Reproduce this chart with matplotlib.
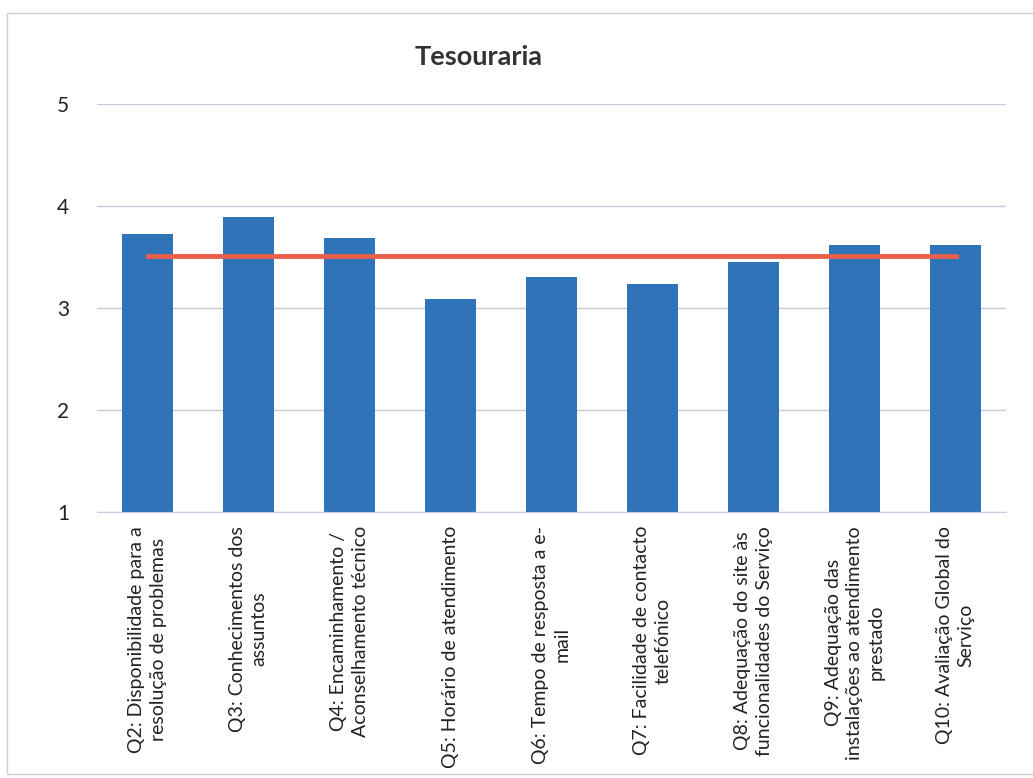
import matplotlib.pyplot as plt
from matplotlib.patches import Rectangle
from matplotlib.transforms import offset_copy

# Survey questions and average scores (scale 1-5)
questions = [
    'Q2: Disponibilidade para a\nresolução de problemas',
    'Q3: Conhecimentos dos\nassuntos',
    'Q4: Encaminhamento /\nAconselhamento técnico',
    'Q5: Horário de atendimento',
    'Q6: Tempo de resposta a e-\nmail',
    'Q7: Facilidade de contacto\ntelefónico',
    'Q8: Adequação do site às\nfuncionalidades do Serviço',
    'Q9: Adequação das\ninstalações ao atendimento\nprestado',
    'Q10: Avaliação Global do\nServiço',
]
scores = [3.73, 3.89, 3.69, 3.09, 3.30, 3.24, 3.45, 3.62, 3.62]
overall_mean = sum(scores) / len(scores)

plt.rcParams['font.family'] = ['Lato', 'DejaVu Sans']

fig = plt.figure(figsize=(10.33, 7.78), dpi=100)
ax = fig.add_axes([97 / 1033, 1 - 512 / 778, 909 / 1033, 408 / 778])

x = list(range(len(questions)))
ax.bar(x, [s - 1 for s in scores], bottom=1, width=0.5, color='#2F73B8', zorder=2)
ax.plot([x[0], x[-1]], [overall_mean, overall_mean], color='#E8604C', lw=3.5, zorder=3)

ax.set_xlim(-0.5, len(questions) - 0.5)
ax.set_ylim(1, 5)
ax.set_yticks([1, 2, 3, 4, 5])
ax.grid(axis='y', color='#CBC6DA', lw=1, zorder=0)
ax.tick_params(axis='y', length=0, labelsize=15, pad=20, labelcolor='#222222')
ax.set_xticks([])
for side in ['top', 'right', 'left']:
    ax.spines[side].set_visible(False)
ax.spines['bottom'].set_color('#C4CCE4')

# category labels, rotated and hanging below the axis
label_trans = offset_copy(ax.get_xaxis_transform(), fig=fig, x=0, y=-10, units='points')
for xi, q in zip(x, questions):
    ax.text(xi, 0, q, transform=label_trans, rotation=90, ha='center', va='top',
            multialignment='center', linespacing=1.3, fontsize=14, color='#222222')

fig.text(479 / 1033, 1 - 57 / 778, 'Tesouraria', ha='center', va='center',
         fontsize=19.5, fontweight='bold', color='#333333')

fig.patches.append(Rectangle((7 / 1033, 0.005), 1.2, 1 - 13 / 778 - 0.005,
                             transform=fig.transFigure, fill=False,
                             edgecolor='#D0D0D0', lw=1))

fig.savefig('out.png', dpi=100)
